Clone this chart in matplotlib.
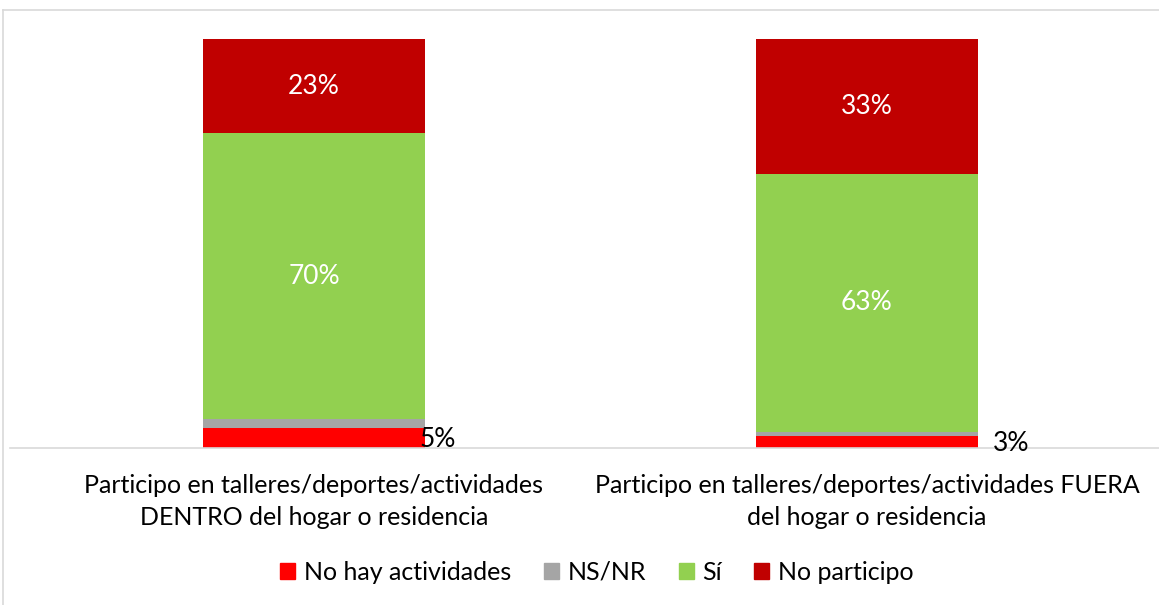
import matplotlib.pyplot as plt
import numpy as np
from matplotlib.patches import Rectangle
from matplotlib.lines import Line2D

plt.rcParams['font.family'] = ['Lato', 'DejaVu Sans']

categories = ['Participo en talleres/deportes/actividades\nDENTRO del hogar o residencia',
              'Participo en talleres/deportes/actividades FUERA\ndel hogar o residencia']
series = ['No hay actividades', 'NS/NR', 'Sí', 'No participo']
no_hay = [5, 3]
ns_nr = [2, 1]
si = [70, 63]
no_participo = [23, 33]
colors = ['#FF0000', '#A5A5A5', '#92D050', '#C00000']

fig = plt.figure(figsize=(11.59, 6.05), dpi=100)
# axes span from the left frame to the right edge, baseline at y=448px
ax = fig.add_axes([10 / 1159, (605 - 448) / 605, 1149 / 1159, (448 - 10) / 605])

x = np.arange(len(categories))
stack = [no_hay, ns_nr, si, no_participo]
bottom = np.zeros(len(categories))
for vals, name, col in zip(stack, series, colors):
    ax.bar(x, vals, width=0.4, bottom=bottom, color=col, label=name)
    bottom += np.array(vals)

# value labels in the big segments
for i in range(len(categories)):
    ax.text(x[i], no_hay[i] + ns_nr[i] + si[i] / 2, f'{si[i]}%', ha='center', va='center',
            color='white', fontsize=19)
    ax.text(x[i], 100 - no_participo[i] / 2, f'{no_participo[i]}%', ha='center', va='center',
            color='white', fontsize=19)

# small labels beside the bottom segment
ax.text(x[0] + 0.19, no_hay[0] / 2 - 0.5, f'{no_hay[0]}%', ha='left', va='center',
        color='black', fontsize=19)
ax.text(x[1] + 0.228, no_hay[1] / 2 - 0.5, f'{no_hay[1]}%', ha='left', va='center',
        color='black', fontsize=19)

ax.set_xlim(-(314 - 10) / 553, 1 + (1159 - 867) / 553)
ax.set_ylim(0, 100 + 29 / 409 * 100)
ax.set_xticks(x)
ax.set_xticklabels(categories, fontsize=18, linespacing=1.45)
ax.tick_params(axis='x', length=0, pad=19)
ax.set_yticks([])
for s in ['top', 'right', 'left']:
    ax.spines[s].set_visible(False)
ax.spines['bottom'].set_color('#D9D9D9')
ax.spines['bottom'].set_linewidth(1.2)

# outer chart frame (left and top edges)
fig.add_artist(Line2D([3 / 1159, 3 / 1159], [0, (605 - 10) / 605], color='#D9D9D9', lw=1.2))
fig.add_artist(Line2D([3 / 1159, 1], [(605 - 10) / 605, (605 - 10) / 605], color='#D9D9D9', lw=1.2))

handles = [Rectangle((0, 0), 1, 1, color=c) for c in colors]
fig.legend(handles, series, loc='center', bbox_to_anchor=(597 / 1159, (605 - 572) / 605),
           ncol=4, frameon=False, fontsize=18, handlelength=0.6, handleheight=0.6,
           handletextpad=0.35, columnspacing=1.3)

fig.savefig('out.png', dpi=100)
